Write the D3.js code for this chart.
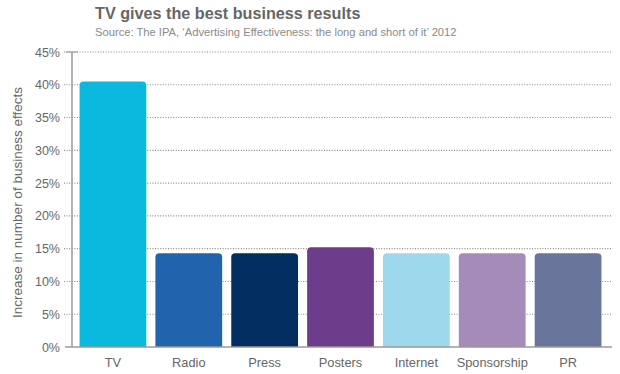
<!DOCTYPE html>
<html>
<head>
<meta charset="utf-8">
<script src="https://cdn.jsdelivr.net/npm/d3@7"></script>
<style>
  html, body { margin: 0; padding: 0; background: #fff; }
  svg { display: block; font-family: "Liberation Sans", Arial, sans-serif; }
</style>
</head>
<body>
<svg id="chart" width="620" height="374"></svg>
<script>
const categories = ['TV', 'Radio', 'Press', 'Posters', 'Internet', 'Sponsorship', 'PR'];
const values = [40.5, 14.3, 14.3, 15.2, 14.3, 14.3, 14.3];
const barColors = ['#0cb9de', '#2263ae', '#032e61', '#6d3c8b', '#9dd8ed', '#a58bb9', '#69759b'];
const yTicks = [0, 5, 10, 15, 20, 25, 30, 35, 40, 45];

const svg = d3.select('#chart');
const plotLeft = 72, plotRight = 612, plotTop = 52, plotBottom = 347;

const x = d3.scaleBand(categories, [75, 606]).paddingInner(0.12).paddingOuter(0.06);
const y = d3.scaleLinear([0, 45], [plotBottom, plotTop]);

// title
svg.append('text').attr('x', 95).attr('y', 19)
  .attr('font-size', 16.2).attr('fill', '#666').attr('font-weight', 'bold')
  .text('TV gives the best business results');
svg.append('text').attr('x', 95).attr('y', 36)
  .attr('font-size', 11.2).attr('fill', '#8a8a8a')
  .text('Source: The IPA, \u2018Advertising Effectiveness: the long and short of it\u2019 2012');

// dotted gridlines + tick stubs
svg.append('g').selectAll('line').data(yTicks.filter((d) => d > 0)).join('line')
  .attr('x1', 64).attr('x2', plotRight)
  .attr('y1', (d) => y(d)).attr('y2', (d) => y(d))
  .attr('stroke', '#8a8a8a').attr('stroke-width', 1.1).attr('stroke-dasharray', '1,1.6');

// y tick labels
svg.append('g').selectAll('text').data(yTicks).join('text')
  .attr('x', 60).attr('y', (d) => y(d) + 4.5)
  .attr('text-anchor', 'end').attr('font-size', 12.5).attr('fill', '#666')
  .text((d) => d + '%');

// y axis title
svg.append('text')
  .attr('transform', `translate(22,${(plotTop + plotBottom) / 2 + 3}) rotate(-90)`)
  .attr('text-anchor', 'middle').attr('font-size', 13.5).attr('fill', '#666')
  .text('Increase in number of business effects');

// bars with rounded top corners
const r = 4;
svg.append('g').selectAll('path').data(categories).join('path')
  .attr('d', (c, i) => {
    const x0 = x(c), x1 = x(c) + x.bandwidth(), y0 = y(values[i]), yb = y(0);
    return `M${x0},${yb}V${y0 + r}Q${x0},${y0} ${x0 + r},${y0}H${x1 - r}Q${x1},${y0} ${x1},${y0 + r}V${yb}Z`;
  })
  .attr('fill', (c, i) => barColors[i]);

// axes lines
svg.append('line').attr('x1', plotLeft).attr('x2', plotLeft).attr('y1', plotTop).attr('y2', plotBottom)
  .attr('stroke', '#9a9a9a').attr('stroke-width', 1.5);
svg.append('line').attr('x1', 66).attr('x2', plotLeft + 6).attr('y1', plotTop).attr('y2', plotTop)
  .attr('stroke', '#9a9a9a').attr('stroke-width', 1.2);
svg.append('line').attr('x1', 65).attr('x2', plotRight).attr('y1', plotBottom).attr('y2', plotBottom)
  .attr('stroke', '#9a9a9a').attr('stroke-width', 1.5);

// category labels
svg.append('g').selectAll('text').data(categories).join('text')
  .attr('x', (c) => x(c) + x.bandwidth() / 2).attr('y', 367)
  .attr('text-anchor', 'middle').attr('font-size', 12.8).attr('fill', '#666')
  .text((c) => c);
</script>
</body>
</html>
